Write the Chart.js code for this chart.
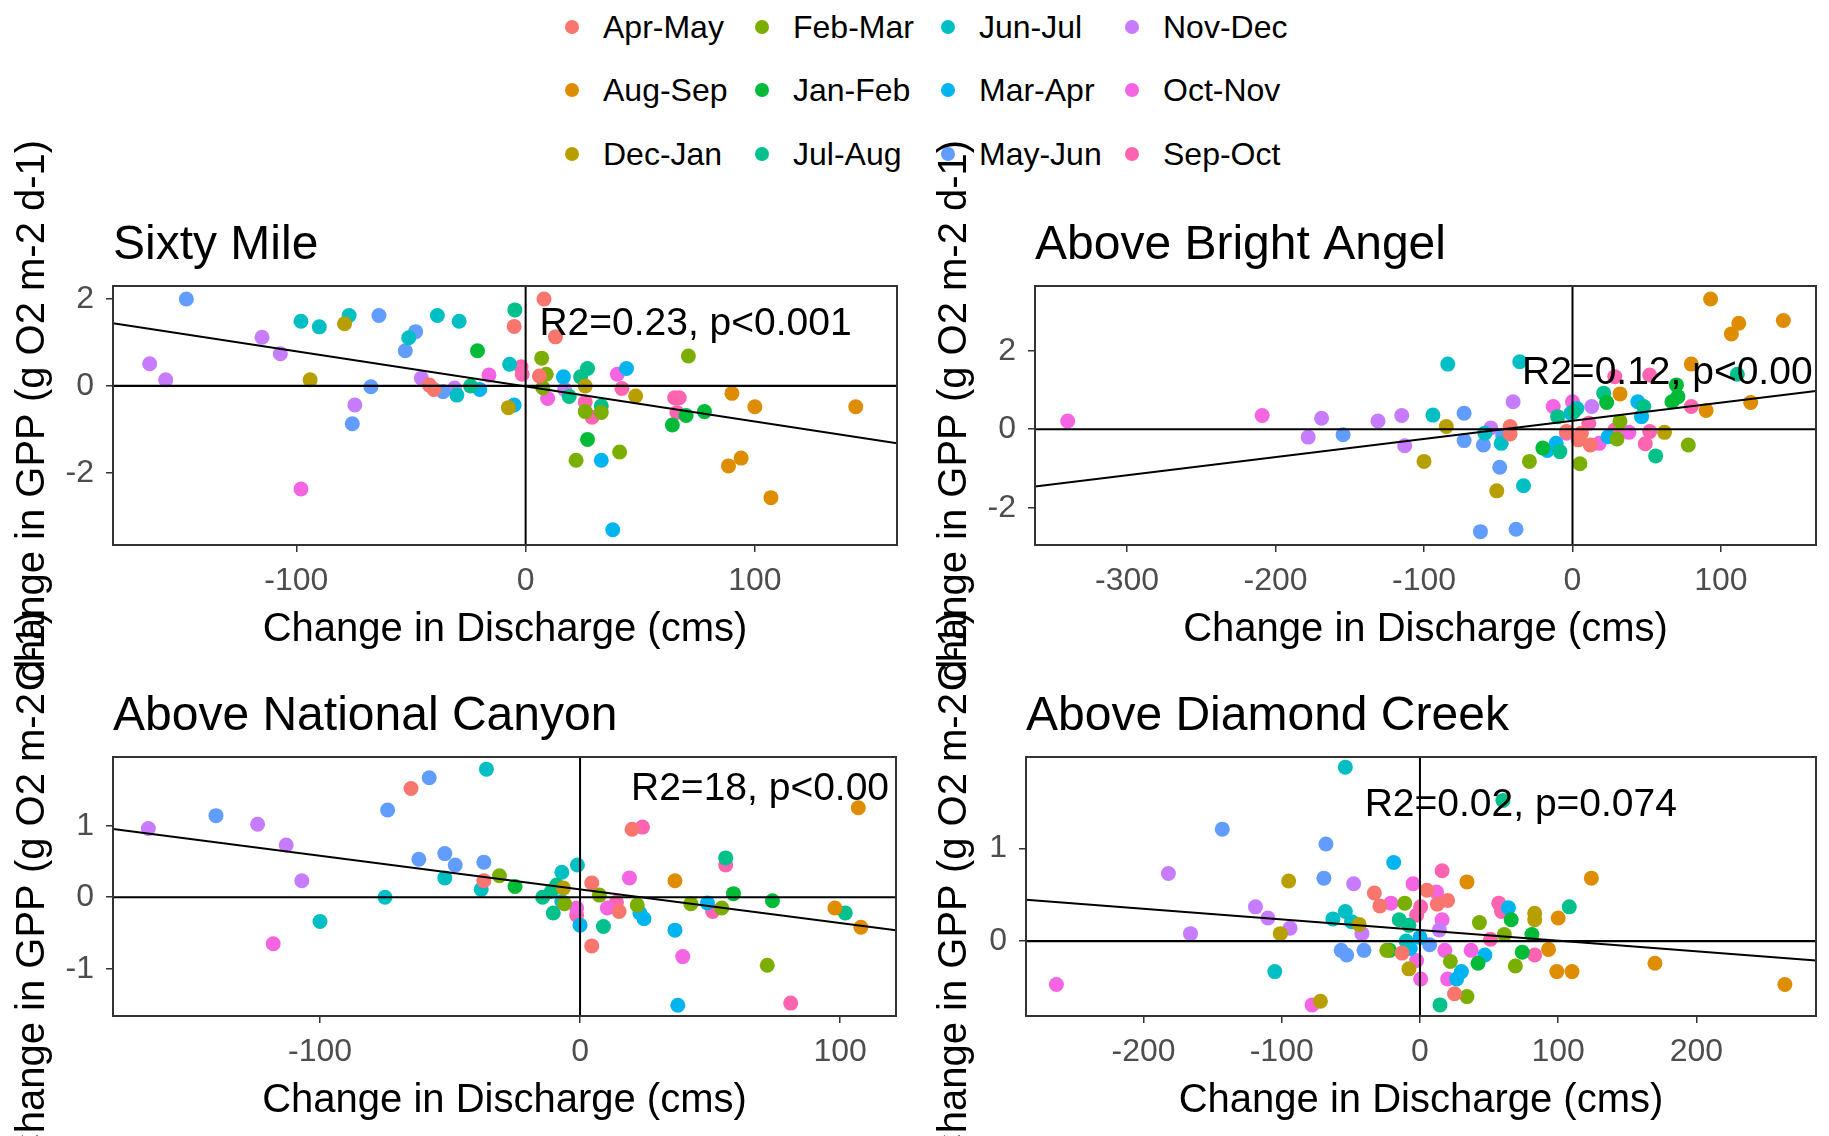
<!DOCTYPE html>
<html lang="en">
<head>
<meta charset="UTF-8">
<title>Change in GPP vs change in discharge</title>
<script src="https://cdn.jsdelivr.net/npm/chart.js"></script>
<style>
  body { margin: 0; background: #fff; font-family: "Liberation Sans", Arial, sans-serif; }
  #wrap { position: relative; width: 1829px; height: 1136px; overflow: hidden; background: #fff; }
  #wrap canvas { position: absolute; left: 0; top: 0; }
  .key { position: absolute; font-size: 32px; line-height: 40px; color: #000; white-space: nowrap; }
  .key i { position: absolute; width: 14px; height: 14px; border-radius: 50%; left: -38px; top: 13px; }
</style>
</head>
<body>
<div id="wrap"></div>
<script>
// season groups (ggplot default hue palette, alphabetical)
const seasons = ['Apr-May', 'Aug-Sep', 'Dec-Jan', 'Feb-Mar', 'Jan-Feb', 'Jul-Aug',
                 'Jun-Jul', 'Mar-Apr', 'May-Jun', 'Nov-Dec', 'Oct-Nov', 'Sep-Oct'];
const seasonColors = ['#F8766D', '#DE8C00', '#B79F00', '#7CAE00', '#00BA38', '#00C08B',
                      '#00BFC4', '#00B4F0', '#619CFF', '#C77CFF', '#F564E3', '#FF64B0'];

// [change in discharge, change in GPP]
const sixtyMile = {
  'Apr-May': [[8, 2.0], [-5, 1.37], [13, 1.13], [6, 0.23], [-42, 0.02], [-40, -0.08]],
  'Aug-Sep': [[90, -0.17], [100, -0.48], [144, -0.48], [94, -1.66], [88.5, -1.84], [107, -2.57]],
  'Dec-Jan': [[-79, 1.43], [-94, 0.14], [-7.5, -0.5], [26, 0.0], [48, -0.23]],
  'Feb-Mar': [[7, 0.64], [71, 0.69], [9, 0.27], [7.5, -0.04], [26, -0.59], [33, -0.61], [22, -1.71], [41, -1.52]],
  'Jan-Feb': [[-21, 0.81], [70, -0.68], [78, -0.59], [64, -0.9], [27, -1.23]],
  'Jul-Aug': [[-4.7, 1.75], [-24, 0.0], [27, 0.4], [24, 0.21], [19, -0.24], [33, -0.46]],
  'Jun-Jul': [[-98, 1.49], [-90, 1.36], [-77, 1.62], [-51, 1.11], [-38.5, 1.62], [-29, 1.49], [-30, -0.21], [-7, 0.5]],
  'Mar-Apr': [[-20, -0.08], [-5, -0.44], [16.5, 0.21], [44, 0.4], [33, -1.71], [38, -3.31]],
  'May-Jun': [[-148, 2.0], [-64, 1.62], [-48, 1.25], [-52.5, 0.81], [-67.5, -0.02], [-75.6, -0.87], [-36, -0.13]],
  'Nov-Dec': [[-164, 0.51], [-157, 0.14], [-115, 1.12], [-107, 0.74], [-45.5, 0.18], [-74.5, -0.44], [-31, -0.05], [17, -0.08]],
  'Oct-Nov': [[-98, -2.37], [-16, 0.25], [40, 0.27], [9.6, -0.29]],
  'Sep-Oct': [[-2, 0.44], [-1.5, 0.27], [42, -0.06], [26, -0.37], [29, -0.72], [65, -0.27], [67, -0.27], [66, -0.61]]
};
const brightAngel = {
  'Apr-May': [[-42, 0.07], [-42, -0.12], [-4, -0.06], [4, -0.27], [12, -0.4], [6, -0.1]],
  'Aug-Sep': [[93, 3.32], [112, 2.7], [107, 2.43], [142, 2.77], [80, 1.66], [32, 0.9], [120, 0.68], [90, 0.48]],
  'Dec-Jan': [[-100, -0.82], [-85, 0.07], [-51, -1.57], [62, -0.08]],
  'Feb-Mar': [[-29, -0.82], [30, -0.25], [32, 0.2], [78, -0.4], [5, -0.88]],
  'Jan-Feb': [[70, 1.13], [71, 0.83], [67, 0.7], [23, 0.68], [-20, -0.48]],
  'Jul-Aug': [[111, 1.4], [21, 0.92], [48, 0.58], [-8.5, -0.57], [-10, 0.32], [56, -0.68], [1, 0.45]],
  'Jun-Jul': [[-84, 1.66], [-35.5, 1.72], [-94, 0.36], [-59, -0.1], [-48, -0.36], [-33, -1.44], [3, 0.53]],
  'Mar-Apr': [[44, 0.7], [46.5, 0.32], [-17, -0.54], [-11, -0.36], [24, -0.19], [-1, 0.41]],
  'May-Jun': [[-154.5, -0.14], [-73, 0.41], [-73, -0.29], [-60, -0.4], [-47, -0.17], [-49, -0.97], [-62, -2.61], [-38, -2.55]],
  'Nov-Dec': [[-178, -0.2], [-169, 0.28], [-131, 0.21], [-115, 0.35], [-113, -0.42], [-40, 0.7], [-55, 0.03], [13, 0.58]],
  'Oct-Nov': [[-340, 0.21], [-209, 0.35], [-13, 0.58], [0, 0.7], [-4, -0.1], [18, -0.36], [38, -0.08]],
  'Sep-Oct': [[28.5, 1.34], [52, 1.38], [80, 0.58], [11, 0.15], [28.5, -0.02], [52, -0.06], [49, -0.37]]
};
const nationalCanyon = {
  'Apr-May': [[-65, 1.52], [-37, 0.23], [4.5, 0.2], [4.5, -0.68], [15, -0.2], [20, 0.95]],
  'Aug-Sep': [[36.5, 0.23], [98, -0.15], [108, -0.42], [107, 1.25]],
  'Dec-Jan': [[-6.4, 0.13]],
  'Feb-Mar': [[-31, 0.3], [-6, -0.09], [7.4, 0.03], [22, -0.11], [42.6, -0.09], [54.5, -0.15], [72, -0.95]],
  'Jan-Feb': [[-25, 0.15], [59, 0.05], [74, -0.05]],
  'Jul-Aug': [[-14.4, 0.0], [-10.3, -0.22], [-9, 0.17], [-11, 0.08], [9, -0.41], [56, 0.55], [102, -0.22]],
  'Jun-Jul': [[-36, 1.79], [-100, -0.34], [-75, 0.0], [-52, 0.27], [-38, 0.11], [-7, 0.35], [-1, 0.45]],
  'Mar-Apr': [[-7, -0.06], [0, -0.39], [23, -0.22], [24.6, -0.3], [36.5, -0.46], [37.6, -1.51], [49, -0.08]],
  'May-Jun': [[-140, 1.14], [-74, 1.22], [-58, 1.67], [-62, 0.53], [-52, 0.61], [-48, 0.45], [-37, 0.49]],
  'Nov-Dec': [[-166, 0.96], [-124, 1.02], [-113, 0.73], [-107, 0.23]],
  'Oct-Nov': [[-118, -0.65], [-1.3, -0.15], [10.5, -0.15], [19, 0.27], [39.5, -0.83]],
  'Sep-Oct': [[-1.3, -0.25], [14, -0.07], [24, 0.98], [51, -0.2], [56, 0.45], [81, -1.48]]
};
const diamondCreek = {
  'Apr-May': [[-33, 0.52], [-29, 0.38], [5, 0.55], [12.5, 0.4], [20, 0.44], [-13, -0.13], [25, -0.57]],
  'Aug-Sep': [[124, 0.68], [34, 0.64], [170, -0.24], [264, -0.47], [100, 0.25], [99, -0.33], [110, -0.33], [93, -0.09]],
  'Dec-Jan': [[-95, 0.65], [-101, 0.08], [-72, -0.65], [-44, 0.18], [-8, -0.3], [83, 0.3], [83, 0.23]],
  'Feb-Mar': [[-11, 0.41], [-24, -0.1], [22, -0.22], [34, -0.6], [43, 0.2], [61, 0.07], [69, -0.27]],
  'Jan-Feb': [[-22, -0.1], [42, -0.24], [66, 0.23], [74, -0.12], [81, 0.07]],
  'Jul-Aug': [[60, 1.52], [108, 0.37], [-15, 0.23], [-8, 0.17], [14.5, -0.69]],
  'Jun-Jul': [[-54, 1.88], [-105, -0.33], [-54, 0.32], [-63, 0.24], [-49.5, 0.21], [-10, 0.0]],
  'Mar-Apr': [[-19, 0.85], [-7, -0.08], [0, 0.04], [30, -0.33], [26.5, -0.41], [47, -0.15], [64, 0.36]],
  'May-Jun': [[-143, 1.21], [-68, 1.05], [-69.5, 0.68], [-57, -0.1], [-53, -0.15], [-40.5, -0.1], [7, -0.04]],
  'Nov-Dec': [[-182, 0.73], [-166, 0.08], [-119, 0.37], [-110, 0.25], [-94, 0.14], [-48, 0.62], [-42, 0.08], [14, 0.12]],
  'Oct-Nov': [[-263, -0.47], [-78, -0.69], [-21, 0.41], [-5, 0.62], [12, 0.53], [16, 0.23], [-2.4, -0.21], [0.5, -0.41], [18, -0.1], [20, -0.41], [37, -0.1]],
  'Sep-Oct': [[16, 0.76], [0.5, 0.37], [-2.4, 0.28], [51, 0.02], [57, 0.41], [59, 0.32], [83, -0.15]]
};

const panelTitles = ['Sixty Mile', 'Above Bright Angel', 'Above National Canyon', 'Above Diamond Creek'];
const panelPoints = [sixtyMile, brightAngel, nationalCanyon, diamondCreek];
const xRanges = [[-180, 162], [-362, 164], [-179.6, 121.5], [-285, 286.5]];
const yRanges = [[-3.66, 2.3], [-2.95, 3.65], [-1.66, 1.96], [-0.81, 1.99]];
const xTicks = [[-100, 0, 100], [-300, -200, -100, 0, 100], [-100, 0, 100], [-200, -100, 0, 100, 200]];
const yTicks = [[-2, 0, 2], [-2, 0, 2], [-1, 0, 1], [0, 1]];
// fitted line: [intercept, slope]
const fits = [[-0.01, -0.00807], [0.215, 0.00463], [0.11, -0.0047], [0.12, -0.00115]];
const fitLabels = ['R2=0.23, p<0.001', 'R2=0.12, p<0.00', 'R2=18, p<0.00', 'R2=0.02, p=0.074'];
const fitLabelAt = [[6, 1.43], [-34, 1.43], [19.6, 1.51], [-40, 1.47]];
const xTitle = 'Change in Discharge (cms)';
const yTitle = 'Change in GPP (g O2 m-2 d-1)';

// page layout (px)
const W = 1829, H = 1136, Y_AXIS_W = 60, X_AXIS_H = 60;
const boxes = [
  { left: 113, top: 286, right: 897, bottom: 545, yTitleX: 33 },
  { left: 1035, top: 286, right: 1816, bottom: 545, yTitleX: 955 },
  { left: 113, top: 757, right: 896, bottom: 1016, yTitleX: 33 },
  { left: 1026, top: 757, right: 1816, bottom: 1016, yTitleX: 955 }
];
const FONT = "'Liberation Sans', Arial, sans-serif";
const wrap = document.getElementById('wrap');

// legend, filled column by column like ggplot
const legendCols = [603, 793, 979, 1163], legendRows = [27, 90, 154];
seasons.forEach((s, i) => {
  const d = document.createElement('div');
  d.className = 'key';
  d.style.left = legendCols[Math.floor(i / 3)] + 'px';
  d.style.top = (legendRows[i % 3] - 20) + 'px';
  d.innerHTML = '<i style="background:' + seasonColors[i] + '"></i>' + s;
  wrap.appendChild(d);
});

function decor(k, box) {
  return {
    id: 'decor' + k,
    afterDatasetsDraw(chart) {
      const { ctx, chartArea: a, scales } = chart;
      ctx.save();
      ctx.beginPath();
      ctx.rect(a.left, a.top, a.width, a.height);
      ctx.clip();
      ctx.fillStyle = '#000';
      ctx.font = '39px ' + FONT;
      ctx.textAlign = 'left';
      ctx.textBaseline = 'middle';
      ctx.fillText(fitLabels[k], scales.x.getPixelForValue(fitLabelAt[k][0]), scales.y.getPixelForValue(fitLabelAt[k][1]));
      ctx.restore();
      ctx.save();
      ctx.strokeStyle = '#333';
      ctx.lineWidth = 2;
      ctx.strokeRect(a.left, a.top, a.width, a.height);
      ctx.restore();
    },
    afterDraw(chart) {
      const { ctx, chartArea: a } = chart;
      ctx.save();
      ctx.fillStyle = '#000';
      ctx.textBaseline = 'alphabetic';
      ctx.font = '48px ' + FONT;
      ctx.textAlign = 'left';
      ctx.fillText(panelTitles[k], a.left, a.top - 27);
      ctx.font = '40px ' + FONT;
      ctx.textAlign = 'center';
      ctx.fillText(xTitle, (a.left + a.right) / 2, a.bottom + 96);
      ctx.translate(box.yTitleX, (a.top + a.bottom) / 2);
      ctx.rotate(-Math.PI / 2);
      ctx.textBaseline = 'middle';
      ctx.fillText(yTitle, 0, 0);
      ctx.restore();
    }
  };
}

function axis(range, ticks, isX) {
  return {
    type: 'linear',
    min: range[0],
    max: range[1],
    afterBuildTicks: s => { s.ticks = ticks.map(v => ({ value: v })); },
    afterFit: s => { if (isX) s.height = X_AXIS_H; else s.width = Y_AXIS_W; },
    grid: { drawOnChartArea: false, drawTicks: true, tickLength: 7, color: '#333', lineWidth: 1.5 },
    border: { display: false },
    ticks: { font: { family: FONT, size: 32 }, color: '#4D4D4D', padding: isX ? 10 : 12, maxRotation: 0, autoSkip: false }
  };
}

panelTitles.forEach((t, k) => {
  const box = boxes[k];
  const cv = document.createElement('canvas');
  cv.width = W;
  cv.height = H;
  wrap.appendChild(cv);
  const xr = xRanges[k], yr = yRanges[k], fit = fits[k];
  const datasets = seasons.map((s, i) => ({
    label: s,
    data: (panelPoints[k][s] || []).map(p => ({ x: p[0], y: p[1] })),
    backgroundColor: seasonColors[i],
    borderWidth: 0,
    pointRadius: 7.5,
    pointHoverRadius: 7.5,
    order: 2
  }));
  const line = (data, w) => ({ data, showLine: true, borderColor: '#000', borderWidth: w, pointRadius: 0, order: 1 });
  datasets.push(line(xr.map(x => ({ x, y: fit[0] + fit[1] * x })), 2));
  datasets.push(line(xr.map(x => ({ x, y: 0 })), 2.2));
  datasets.push(line(yr.map(y => ({ x: 0, y })), 2));
  new Chart(cv, {
    type: 'scatter',
    data: { datasets },
    options: {
      responsive: false,
      animation: false,
      devicePixelRatio: 1,
      events: [],
      layout: { padding: { left: box.left - Y_AXIS_W, top: box.top, right: W - box.right, bottom: H - box.bottom - X_AXIS_H } },
      plugins: { legend: { display: false }, tooltip: { enabled: false } },
      scales: { x: axis(xr, xTicks[k], true), y: axis(yr, yTicks[k], false) }
    },
    plugins: [decor(k, box)]
  });
});
</script>
</body>
</html>
